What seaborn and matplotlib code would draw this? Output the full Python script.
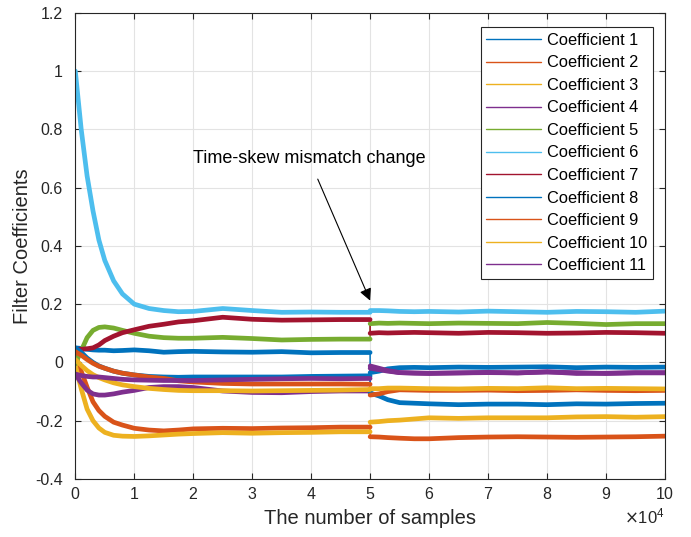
import numpy as np
import pandas as pd
import seaborn as sns
import matplotlib.pyplot as plt
from matplotlib.lines import Line2D
from matplotlib.ticker import ScalarFormatter, FixedLocator, FixedFormatter

# Sample index at which each coefficient trajectory was read
samples = [0, 1000, 2000, 3000, 4000, 5000, 6500, 8000, 10000, 12500, 15000,
           17500, 20000, 25000, 30000, 35000, 40000, 45000, 49990, 50000,
           51500, 53000, 55000, 57500, 60000, 65000, 70000, 75000, 80000,
           85000, 90000, 95000, 100000]
change_at = 50000

coef_1 = [0.050, 0.048, 0.045, 0.043, 0.042, 0.042, 0.040, 0.041, 0.043, 0.040, 0.035,
          0.037, 0.038, 0.036, 0.035, 0.037, 0.033, 0.034, 0.034, -0.035,
          -0.030, -0.022, -0.018, -0.017, -0.018, -0.016, -0.017, -0.016, -0.015,
          -0.018, -0.016, -0.017, -0.016]
coef_2 = [0.025, -0.030, -0.085, -0.135, -0.165, -0.185, -0.205, -0.215, -0.226, -0.232, -0.235,
          -0.232, -0.228, -0.226, -0.227, -0.225, -0.224, -0.222, -0.222, -0.255,
          -0.256, -0.258, -0.260, -0.262, -0.262, -0.258, -0.256, -0.255, -0.256,
          -0.257, -0.256, -0.255, -0.253]
coef_3 = [-0.010, -0.090, -0.160, -0.200, -0.225, -0.240, -0.250, -0.253, -0.254, -0.252, -0.249,
          -0.246, -0.244, -0.241, -0.243, -0.241, -0.240, -0.238, -0.238, -0.205,
          -0.203, -0.200, -0.198, -0.194, -0.190, -0.192, -0.190, -0.190, -0.190,
          -0.187, -0.186, -0.188, -0.186]
coef_4 = [-0.040, -0.070, -0.095, -0.108, -0.112, -0.112, -0.108, -0.102, -0.096, -0.086, -0.083,
          -0.083, -0.086, -0.098, -0.103, -0.104, -0.100, -0.098, -0.098, -0.020,
          -0.025, -0.030, -0.035, -0.036, -0.037, -0.036, -0.035, -0.036, -0.033,
          -0.035, -0.038, -0.036, -0.035]
coef_5 = [-0.005, 0.040, 0.085, 0.110, 0.120, 0.122, 0.118, 0.110, 0.100, 0.090, 0.085,
          0.083, 0.083, 0.086, 0.082, 0.077, 0.079, 0.080, 0.080, 0.133,
          0.135, 0.134, 0.135, 0.134, 0.133, 0.135, 0.134, 0.133, 0.137,
          0.134, 0.130, 0.133, 0.133]
coef_6 = [1.000, 0.800, 0.640, 0.520, 0.420, 0.350, 0.280, 0.235, 0.200, 0.185, 0.178,
          0.174, 0.175, 0.185, 0.178, 0.172, 0.173, 0.172, 0.172, 0.178,
          0.178, 0.177, 0.175, 0.174, 0.175, 0.173, 0.176, 0.174, 0.172,
          0.175, 0.174, 0.172, 0.176]
coef_7 = [0.045, 0.045, 0.047, 0.050, 0.060, 0.075, 0.090, 0.102, 0.112, 0.124, 0.131,
          0.139, 0.143, 0.155, 0.148, 0.145, 0.146, 0.147, 0.147, 0.100,
          0.102, 0.101, 0.102, 0.103, 0.102, 0.100, 0.103, 0.102, 0.100,
          0.101, 0.103, 0.102, 0.100]
coef_8 = [0.050, 0.035, 0.015, 0.000, -0.012, -0.020, -0.030, -0.037, -0.043, -0.048, -0.050,
          -0.051, -0.050, -0.050, -0.050, -0.050, -0.048, -0.047, -0.046, -0.105,
          -0.115, -0.128, -0.138, -0.140, -0.142, -0.145, -0.143, -0.143, -0.145,
          -0.142, -0.143, -0.141, -0.140]
coef_9 = [0.037, 0.025, 0.010, -0.003, -0.013, -0.020, -0.030, -0.037, -0.043, -0.050, -0.055,
          -0.063, -0.067, -0.072, -0.074, -0.074, -0.074, -0.074, -0.075, -0.112,
          -0.108, -0.100, -0.094, -0.095, -0.096, -0.096, -0.095, -0.097, -0.096,
          -0.094, -0.096, -0.097, -0.096]
coef_10 = [0.010, -0.010, -0.028, -0.042, -0.052, -0.060, -0.070, -0.077, -0.083, -0.089, -0.093,
           -0.096, -0.097, -0.097, -0.098, -0.097, -0.096, -0.095, -0.093, -0.090,
           -0.090, -0.088, -0.088, -0.089, -0.090, -0.091, -0.089, -0.090, -0.087,
           -0.090, -0.089, -0.090, -0.091]
coef_11 = [-0.040, -0.045, -0.048, -0.050, -0.050, -0.052, -0.055, -0.058, -0.060, -0.061, -0.062,
           -0.062, -0.062, -0.060, -0.058, -0.056, -0.055, -0.056, -0.055, -0.012,
           -0.020, -0.028, -0.035, -0.037, -0.038, -0.036, -0.034, -0.036, -0.032,
           -0.038, -0.037, -0.035, -0.036]

coefficients = [coef_1, coef_2, coef_3, coef_4, coef_5, coef_6,
                coef_7, coef_8, coef_9, coef_10, coef_11]
labels = [f"Coefficient {i}" for i in range(1, 12)]

y_ticks = [-0.4, -0.2, 0, 0.2, 0.4, 0.6, 0.8, 1.0, 1.2]
y_tick_labels = ["-0.4", "-0.2", "0", "0.2", "0.4", "0.6", "0.8", "1", "1.2"]
x_ticks = [0, 10000, 20000, 30000, 40000, 50000, 60000, 70000, 80000, 90000, 100000]

# MATLAB-style colour order, cycling after seven entries
base_colors = ["#0072BD", "#D95319", "#EDB120", "#7E2F8E", "#77AC30",
               "#4DBEEE", "#A2142F"]
palette = [base_colors[i % 7] for i in range(11)]

frames = []
for lab, vals in zip(labels, coefficients):
    frames.append(pd.DataFrame({"samples": samples, "value": vals, "coef": lab}))
df = pd.concat(frames, ignore_index=True)
df["phase"] = np.where(df["samples"] < change_at, "before", "after")


class Exp4Formatter(ScalarFormatter):
    """Integer tick labels with a fixed x10^4 multiplier."""

    def _set_order_of_magnitude(self):
        self.orderOfMagnitude = 4

    def _set_format(self):
        self.format = r"$\mathdefault{%d}$"


sns.set_theme(style="whitegrid")
plt.rcParams["font.family"] = ["Liberation Sans", "DejaVu Sans"]
plt.rcParams["axes.unicode_minus"] = False

text_color = "#262626"

fig = plt.figure(figsize=(6.91, 5.37), dpi=100)
ax = fig.add_axes([75.3 / 691, 1 - 479 / 537, (665 - 75.3) / 691, (479 - 12.7) / 537])

# Thin step at the mismatch change, drawn beneath the trajectories
for c, vals in zip(palette, coefficients):
    i = samples.index(change_at)
    ax.plot([samples[i - 1], samples[i]], [vals[i - 1], vals[i]],
            color=c, lw=1.1, zorder=1.5)

sns.lineplot(data=df, x="samples", y="value", hue="coef", hue_order=labels,
             units="phase", palette=palette, estimator=None, sort=False,
             linewidth=3.4, legend=False, ax=ax)

ax.set_xlim(0, 100000)
ax.set_ylim(-0.4, 1.2)
ax.xaxis.set_major_locator(FixedLocator(x_ticks))
ax.xaxis.set_major_formatter(Exp4Formatter(useMathText=True))
ax.yaxis.set_major_locator(FixedLocator(y_ticks))
ax.yaxis.set_major_formatter(FixedFormatter(y_tick_labels))

ax.grid(True, color="#e3e3e3", linewidth=0.8)
ax.set_facecolor("white")
for sp in ax.spines.values():
    sp.set_color(text_color)
    sp.set_linewidth(0.8)
ax.tick_params(axis="both", direction="in", length=4, width=0.8, color=text_color,
               labelsize=11.5, labelcolor=text_color, top=True, right=True,
               bottom=True, left=True)
ax.tick_params(axis="y", pad=9)
ax.tick_params(axis="x", pad=5)
ax.xaxis.get_offset_text().set_fontsize(12)
ax.xaxis.get_offset_text().set_color(text_color)

ax.set_xlabel("The number of samples", fontsize=14.5, color=text_color, labelpad=5)
ax.set_ylabel("Filter Coefficients", fontsize=14.5, color=text_color, labelpad=2)

ax.annotate("Time-skew mismatch change", xy=(50000, 0.212), xytext=(39600, 0.70),
            fontsize=13, color="black", ha="center", va="center",
            arrowprops=dict(arrowstyle="-|>", color="black", lw=0.8,
                            mutation_scale=18, shrinkA=7, shrinkB=0))

handles = [Line2D([0], [0], color=c, lw=1.0) for c in palette]
leg = ax.legend(handles, labels, loc="upper right", bbox_to_anchor=(0.9797, 0.9693),
                borderaxespad=0, fontsize=11.8, frameon=True, fancybox=False,
                framealpha=1, edgecolor=text_color, handlelength=3.35,
                handletextpad=0.35, labelspacing=0.46, borderpad=0.35)
leg.get_frame().set_linewidth(0.8)
for t in leg.get_texts():
    t.set_color("black")

fig.savefig("out.png", dpi=100)
